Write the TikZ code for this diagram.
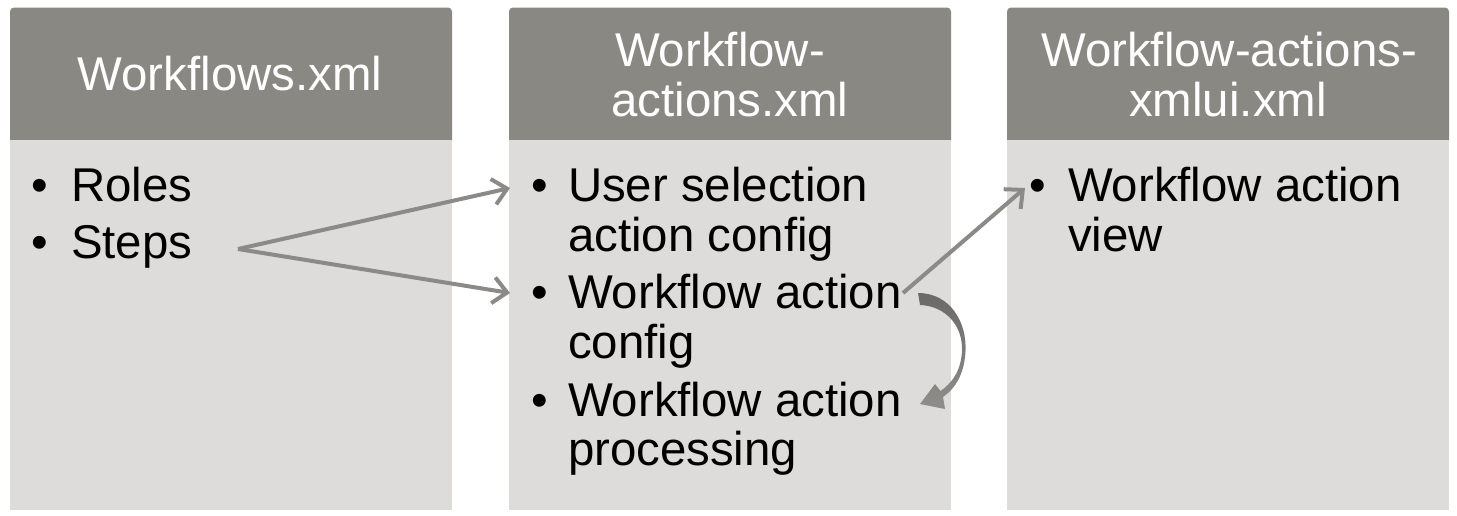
\documentclass[tikz,border=0pt]{standalone}
\usepackage{fontspec}
\setmainfont{Liberation Sans}
\usetikzlibrary{arrows.meta}
\definecolor{hdr}{HTML}{8A8883}
\definecolor{bdy}{HTML}{DEDCDA}
\definecolor{arr}{HTML}{8C8A86}
\definecolor{cdark}{HTML}{6B6967}
\definecolor{clight}{HTML}{908E8A}
\tikzset{
  hdrbox/.style={fill=hdr, rounded corners=4pt},
  bdybox/.style={fill=bdy},
  big/.style={font=\fontsize{47.4}{50}\selectfont, inner sep=0pt, outer sep=0pt},
  hdrtxt/.style={big, text=white, anchor=base},
  itemtxt/.style={big, text=black, anchor=base west},
  bul/.style={big, text=black, anchor=base},
  conn/.style={draw=arr, line width=4pt, -{Straight Barb[length=14pt,width=26pt]}},
  curvearrow/.style={top color=cdark, bottom color=clight, draw=none},
}
\begin{document}
\begin{tikzpicture}[x=1pt,y=-1pt]
\useasboundingbox (0,0) rectangle (1457,515);
% column 1
\path[hdrbox] (10,7.5) rectangle (452,145);
\path[bdybox] (10,140) rectangle (452,510);
% column 2
\path[hdrbox] (509,7.5) rectangle (951,145);
\path[bdybox] (509,140) rectangle (951,510);
% column 3
\path[hdrbox] (1007,7.5) rectangle (1449,145);
\path[bdybox] (1007,140) rectangle (1449,510);

% headers
\node[hdrtxt] (h1) at (230,90) {Workflows.xml};
\node[hdrtxt] (h2a) at (720,66.5) {Workflow-};
\node[hdrtxt] (h2b) at (730,116.5) {actions.xml};
\node[hdrtxt] (h3a) at (1229,66) {Workflow-actions-};
\node[hdrtxt] (h3b) at (1228,116) {xmlui.xml};

% column 1 items
\node[bul] (b11) at (40,201.7) {•};
\node[itemtxt] (roles) at (71,201.7) {Roles};
\node[bul] (b12) at (40,258.5) {•};
\node[itemtxt] (steps) at (71,258.5) {Steps};

% column 2 items
\node[bul] (b21) at (540,201.7) {•};
\node[itemtxt] (usr1) at (568,201.7) {User selection};
\node[itemtxt] (usr2) at (568,251) {action config};
\node[bul] (b22) at (540,308.5) {•};
\node[itemtxt] (wac1) at (568,308.5) {Workflow action};
\node[itemtxt] (wac2) at (568,358) {config};
\node[bul] (b23) at (540,416) {•};
\node[itemtxt] (wap1) at (568,416) {Workflow action};
\node[itemtxt] (wap2) at (568,465.5) {processing};

% column 3 items
\node[bul] (b31) at (1038,201.7) {•};
\node[itemtxt] (wav1) at (1068,201.7) {Workflow action};
\node[itemtxt] (wav2) at (1068,251) {view};

% connectors
\coordinate (fork) at (238,249);
\coordinate (usrin) at (510,188);
\coordinate (wacin) at (510,293);
\coordinate (wacout) at (903,293);
\coordinate (wavin) at (1025,188);
\draw[conn] (fork) -- (usrin);
\draw[conn] (fork) -- (wacin);
\draw[conn] (wacout) -- (wavin);

% curved arrow from config to processing
\path[curvearrow] (918,293) .. controls (950,293) and (967,322) .. (965.5,351)
  .. controls (964.5,373) and (956,388) .. (943,397)
  -- (945,409) -- (920,404) -- (935,384) -- (940.5,391)
  .. controls (952,383) and (961,371) .. (962,351)
  .. controls (963,326) and (946,306) .. (920,305) -- cycle;
\end{tikzpicture}
\end{document}
